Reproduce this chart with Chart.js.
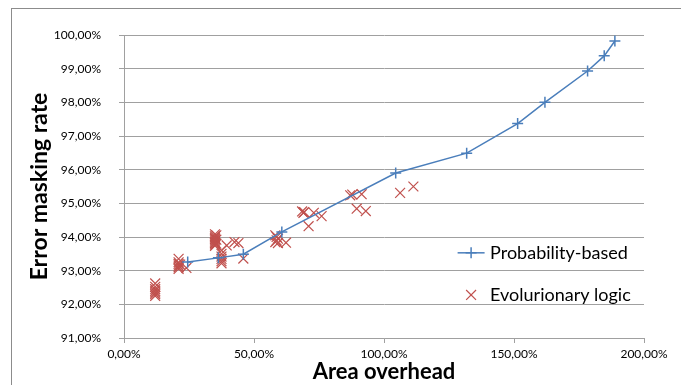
<!DOCTYPE html>
<html>
<head>
<meta charset="utf-8">
<script src="https://cdn.jsdelivr.net/npm/chart.js@4/dist/chart.umd.min.js"></script>
<style>
  html, body { margin: 0; padding: 0; background: #fff; }
  #wrap { position: relative; width: 681px; height: 385px; overflow: hidden; }
  #frame { position: absolute; left: 11px; top: 8px; width: 700px; height: 400px;
           border-left: 1px solid #8c8c8c; border-top: 1px solid #8c8c8c; }
  canvas { position: absolute; left: 0; top: 0; }
</style>
</head>
<body>
<div id="wrap">
  <div id="frame"></div>
  <canvas id="c" width="681" height="385"></canvas>
</div>
<script>
// Probability-based designs: area overhead (%) vs. error masking rate (%)
const probArea = [24.5, 36.3, 45.9, 60.7, 104.5, 131.8, 151.4, 161.9, 178.3, 184.7, 188.8];
const probRate = [93.26, 93.38, 93.49, 94.15, 95.90, 96.49, 97.37, 98.00, 98.93, 99.38, 99.82];

// Evolutionary logic synthesis results
const evoArea = [
  12, 12, 12, 12, 12, 12, 12,
  21, 21, 21, 21, 21, 21, 21.6, 24,
  35, 35, 35, 35, 35, 35, 35, 35, 35, 35.5, 35.5, 35.5,
  37.5, 37.5, 37.5, 37.5, 37.5, 37.5,
  39.5, 42.5, 44, 45.9,
  58.2, 58.7, 59.2, 58.7, 58.2, 59.2, 62.3,
  68.5, 69, 69.3, 73, 76, 71,
  87, 87.8, 91.4, 89.5, 93, 106.2, 111.3
];
const evoRate = [
  92.62, 92.52, 92.45, 92.40, 92.35, 92.30, 92.25,
  93.35, 93.25, 93.20, 93.15, 93.10, 93.05, 93.18, 93.08,
  94.08, 94.02, 93.98, 93.94, 93.90, 93.86, 93.82, 93.78, 93.74, 94.05, 93.92, 93.80,
  93.60, 93.50, 93.42, 93.35, 93.28, 93.22,
  93.75, 93.85, 93.82, 93.36,
  94.05, 94.00, 93.95, 93.90, 93.85, 93.82, 93.83,
  94.76, 94.72, 94.74, 94.72, 94.62, 94.32,
  95.24, 95.26, 95.27, 94.84, 94.77, 95.31, 95.50
];

const xTicks = [0, 50, 100, 150, 200];
const yTicks = [91, 92, 93, 94, 95, 96, 97, 98, 99, 100];

const seriesNames = ['Probability-based', 'Evolurionary logic'];
const blue = '#4a7ebb';
const red = '#c0504d';
const gridColor = '#a0a0a0';
const fontFamily = 'Lato, "Open Sans", sans-serif';

const pct = v => v.toFixed(2).replace('.', ',') + '%';

// Legend drawn inside the plot area, to the lower right
const insideLegend = {
  id: 'insideLegend',
  afterDatasetsDraw(chart) {
    const ctx = chart.ctx;
    const x = chart.scales.x, y = chart.scales.y;
    const items = [
      { ds: 0, cy: y.getPixelForValue(93.53) },
      { ds: 1, cy: y.getPixelForValue(92.28) }
    ];
    const markX = x.getPixelForValue(133.5);
    const textX = x.getPixelForValue(140.8);
    ctx.save();
    items.forEach(it => {
      const ds = chart.data.datasets[it.ds];
      const bw = ds.pointBorderWidth || ds.borderWidth;
      ctx.strokeStyle = ds.borderColor;
      if (it.ds === 0) {
        ctx.lineWidth = ds.borderWidth;
        ctx.beginPath();
        ctx.moveTo(markX - 13.5, it.cy);
        ctx.lineTo(markX + 13.5, it.cy);
        ctx.stroke();
      }
      ctx.lineWidth = bw;
      Chart.helpers.drawPoint(ctx, {
        pointStyle: ds.pointStyle, radius: ds.pointRadius,
        borderWidth: bw, rotation: 0
      }, markX, it.cy);
      ctx.fillStyle = '#000';
      ctx.font = '18px ' + fontFamily;
      ctx.textBaseline = 'middle';
      ctx.textAlign = 'left';
      ctx.fillText(ds.label, textX, it.cy);
    });
    ctx.restore();
  }
};

new Chart(document.getElementById('c'), {
  type: 'scatter',
  data: {
    datasets: [
      {
        label: seriesNames[0],
        data: probArea.map((a, i) => ({ x: a, y: probRate[i] })),
        showLine: true,
        borderColor: blue,
        backgroundColor: blue,
        borderWidth: 1.5,
        pointStyle: 'cross',
        pointRadius: 5.5,
        pointBorderWidth: 1.5,
        pointHoverRadius: 5.5
      },
      {
        label: seriesNames[1],
        data: evoArea.map((a, i) => ({ x: a, y: evoRate[i] })),
        borderColor: red,
        backgroundColor: red,
        borderWidth: 1.2,
        pointStyle: 'crossRot',
        pointRadius: 7,
        pointBorderWidth: 1.2,
        pointHoverRadius: 7
      }
    ]
  },
  options: {
    responsive: false,
    devicePixelRatio: 1,
    animation: false,
    events: [],
    layout: { padding: { top: 35, right: 37, left: 0, bottom: 0 } },
    plugins: {
      legend: { display: false },
      tooltip: { enabled: false }
    },
    scales: {
      x: {
        type: 'linear',
        min: 0, max: 200,
        afterFit: s => { s.height = 47; },
        afterBuildTicks: s => { s.ticks = xTicks.map(v => ({ value: v })); },
        grid: { drawOnChartArea: false, drawTicks: true, tickLength: 5, color: gridColor },
        border: { color: gridColor },
        ticks: {
          padding: 4,
          color: '#000',
          font: { family: fontFamily, size: 12 },
          callback: v => pct(v),
          maxRotation: 0
        },
        title: {
          display: true,
          text: 'Area overhead',
          color: '#000',
          font: { family: fontFamily, size: 22, weight: 'bold', lineHeight: 1 },
          padding: { top: 0, bottom: 2 }
        }
      },
      y: {
        type: 'linear',
        min: 91, max: 100,
        afterFit: s => { s.width = 124; },
        afterBuildTicks: s => { s.ticks = yTicks.map(v => ({ value: v })); },
        grid: { drawTicks: true, tickLength: 5, color: gridColor, lineWidth: 1 },
        border: { color: gridColor },
        ticks: {
          padding: 18,
          color: '#000',
          font: { family: fontFamily, size: 12 },
          callback: v => pct(v)
        },
        title: {
          display: true,
          text: 'Error masking rate',
          color: '#000',
          font: { family: fontFamily, size: 23, weight: 'bold', lineHeight: 1 },
          padding: { top: 28, bottom: 0 }
        }
      }
    }
  },
  plugins: [insideLegend]
});
</script>
</body>
</html>
